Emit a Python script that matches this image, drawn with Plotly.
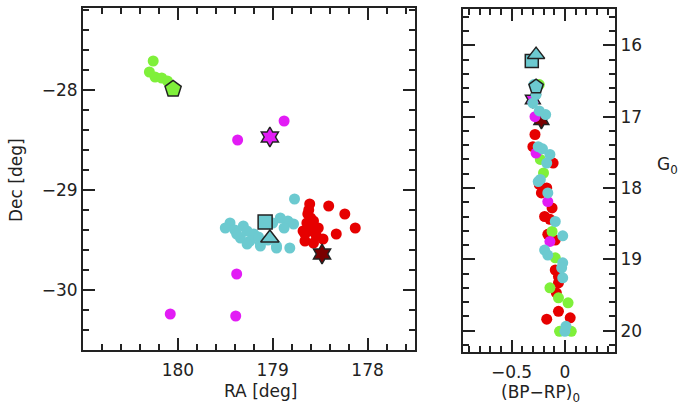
import plotly.graph_objects as go

# ---- Sky positions (left panel) ----
green_ra = [180.26, 180.30, 180.24, 180.17, 180.11]
green_dec = [-27.71, -27.82, -27.87, -27.88, -27.91]
magenta_ra = [179.37, 178.88, 179.38, 180.08, 179.39]
magenta_dec = [-28.50, -28.31, -29.84, -30.24, -30.26]
cyan_ra = [178.77, 179.45, 179.50, 179.31, 179.27, 179.20, 179.34, 179.24, 179.13, 178.96,
           178.82, 178.92, 178.84, 178.78, 179.00, 179.40, 179.15, 179.05, 179.38, 178.88,
           179.27, 179.13, 178.96]
cyan_dec = [-29.09, -29.33, -29.38, -29.36, -29.41, -29.44, -29.48, -29.51, -29.53, -29.56,
            -29.58, -29.28, -29.31, -29.34, -29.33, -29.40, -29.47, -29.50, -29.44, -29.38,
            -29.54, -29.56, -29.58]
red_ra = [178.61, 178.41, 178.24, 178.13, 178.33, 178.63, 178.64, 178.57, 178.68, 178.59,
          178.54, 178.47, 178.66, 178.57, 178.62, 178.60, 178.66, 178.52]
red_dec = [-29.14, -29.16, -29.24, -29.38, -29.44, -29.24, -29.33, -29.31, -29.41, -29.41,
           -29.46, -29.49, -29.51, -29.53, -29.20, -29.28, -29.44, -29.38]

# special objects: (RA, Dec, colour (BP-RP)0, G0)
pent = (180.05, -27.99, -0.27, 16.58)
mag_star = (179.03, -28.47, -0.30, 16.76)
red_star = (178.48, -29.64, -0.22, 17.05)
square = (179.08, -29.32, -0.31, 16.22)
triangle = (179.03, -29.48, -0.27, 16.13)

# ---- CMD (right panel) ----
red_col = [-0.28, -0.30, -0.11, -0.17, -0.22, -0.12, -0.19, -0.14, -0.16, -0.09, -0.09, -0.06,
           -0.06, -0.08, -0.06, -0.17, 0.05, -0.24]
red_g = [17.25, 17.42, 17.65, 18.00, 18.07, 18.28, 18.40, 18.44, 18.65, 18.73, 19.15, 19.24,
         19.33, 19.47, 19.73, 19.84, 19.82, 17.95]
green_col = [-0.23, -0.20, -0.12, -0.09, -0.14, -0.06, 0.03, -0.05, 0.06, -0.24]
green_g = [17.60, 17.79, 18.61, 18.98, 19.40, 19.54, 19.61, 20.01, 20.01, 16.55]
magenta_col = [-0.27, -0.16, -0.14, -0.28]
magenta_g = [17.51, 18.19, 18.75, 17.00]
cyan_col = [-0.29, -0.27, -0.30, -0.24, -0.18, -0.25, -0.14, -0.17, -0.23, -0.25, -0.16,
            -0.09, -0.02, -0.19, -0.16, -0.02, -0.03, -0.02, 0.01, 0.00, -0.21]
cyan_g = [16.55, 16.69, 16.81, 16.92, 16.97, 17.42, 17.53, 17.65, 17.88, 17.91, 18.07,
          18.47, 18.67, 18.87, 18.94, 19.05, 19.12, 19.26, 19.94, 20.01, 17.45]

GREEN = "#7ff03a"
CYAN = "#6ccad0"
RED = "#e60000"
MAG = "#e21cf5"
DRED = "#7a0000"
INK = "#222222"

fig = go.Figure()

def dots(x, y, c, xa, ya):
    fig.add_trace(go.Scatter(x=x, y=y, mode="markers", xaxis=xa, yaxis=ya,
                             marker=dict(color=c, size=11, line=dict(width=0)),
                             showlegend=False, hoverinfo="skip"))

def special(obj, sym, c, size, xa, ya, ix, iy):
    fig.add_trace(go.Scatter(x=[obj[ix]], y=[obj[iy]], mode="markers", xaxis=xa, yaxis=ya,
                             marker=dict(color=c, size=size, symbol=sym,
                                         line=dict(color=INK, width=1.5)),
                             showlegend=False, hoverinfo="skip"))

# left panel
dots(green_ra, green_dec, GREEN, "x", "y")
dots(magenta_ra, magenta_dec, MAG, "x", "y")
dots(cyan_ra, cyan_dec, CYAN, "x", "y")
dots(red_ra, red_dec, RED, "x", "y")
special(pent, "pentagon", GREEN, 17, "x", "y", 0, 1)
special(mag_star, "hexagram", MAG, 15, "x", "y", 0, 1)
special(red_star, "hexagram", DRED, 15, "x", "y", 0, 1)
special(square, "square", CYAN, 14, "x", "y", 0, 1)
special(triangle, "triangle-up", CYAN, 16, "x", "y", 0, 1)

# right panel
special(mag_star, "hexagram", MAG, 13, "x2", "y2", 2, 3)
special(red_star, "hexagram", DRED, 13, "x2", "y2", 2, 3)
dots(red_col, red_g, RED, "x2", "y2")
dots(green_col, green_g, GREEN, "x2", "y2")
dots(magenta_col, magenta_g, MAG, "x2", "y2")
dots(cyan_col, cyan_g, CYAN, "x2", "y2")
special(pent, "pentagon", CYAN, 15, "x2", "y2", 2, 3)
special(square, "square", CYAN, 13, "x2", "y2", 2, 3)
special(triangle, "triangle-up", CYAN, 15, "x2", "y2", 2, 3)

W, H = 684, 411
FONT = "DejaVu Sans"
FS = 17
common = dict(showgrid=False, zeroline=False, showline=True, linecolor=INK, linewidth=2,
              mirror="allticks", ticks="inside", ticklen=12, tickwidth=2, tickcolor=INK,
              tickfont=dict(family=FONT, size=FS, color=INK))
minor = lambda d: dict(dtick=d, ticklen=6, tickwidth=2, ticks="inside", tickcolor=INK)

fig.update_layout(
    width=W, height=H, margin=dict(l=0, r=0, t=0, b=0),
    paper_bgcolor="white", plot_bgcolor="white",
    xaxis=dict(domain=[83 / W, 415 / W], range=[181.0, 177.5], tickvals=[180, 179, 178],
               minor=minor(0.2), anchor="y", ticklabelstandoff=4, **common),
    yaxis=dict(domain=[1 - 350 / H, 1 - 8 / H], range=[-30.6, -27.18], tickvals=[-28, -29, -30],
               ticktext=["\u221228", "\u221229", "\u221230"],
               minor=minor(0.2), anchor="x", **common),
    xaxis2=dict(domain=[463 / W, 615 / W], range=[-0.955, 0.47], tickvals=[-0.5, 0],
                ticktext=["\u22120.5", "0"], minor=minor(0.1), anchor="y2",
                ticklabelstandoff=4, **common),
    yaxis2=dict(domain=[1 - 352 / H, 1 - 9 / H], range=[20.3, 15.49], tickvals=[16, 17, 18, 19, 20],
                side="right", minor=minor(0.2), anchor="x2", **common),
)

tf = dict(family=FONT, size=FS, color=INK)
def label(text, x, y, angle=0):
    fig.add_annotation(text=text, x=x / W, y=1 - y / H, xref="paper", yref="paper",
                       xanchor="center", yanchor="middle", textangle=angle,
                       showarrow=False, font=tf)

label("Dec [deg]", 16, 180, -90)
label("RA [deg]", 260, 391)
label("(BP\u2212RP)<sub>0</sub>", 540, 393)
label("G<sub>0</sub>", 667, 165)

fig.write_html("out.html")
